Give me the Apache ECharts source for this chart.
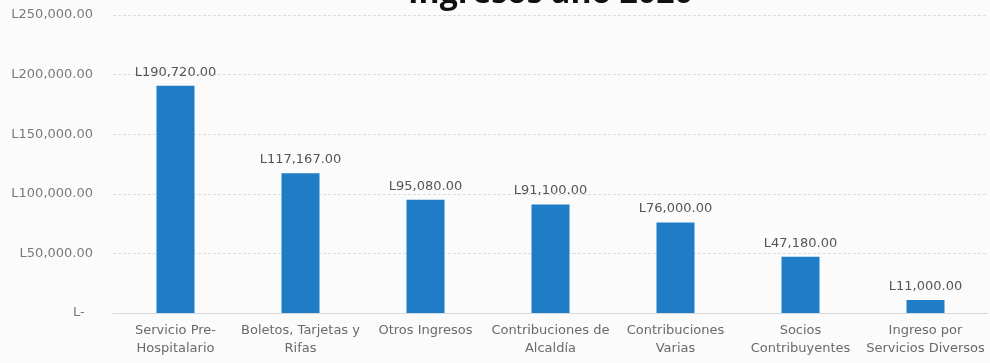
<!DOCTYPE html>
<html>
<head>
<meta charset="utf-8">
<script src="https://cdn.jsdelivr.net/npm/echarts@6/dist/echarts.min.js"></script>
<style>
  html, body { margin: 0; padding: 0; background: #fbfbfc; }
  #chart { width: 990px; height: 363px; }
</style>
</head>
<body>
<div id="chart"></div>
<script>
// Income categories (line breaks as they appear under each bar)
const categories = [
  'Servicio Pre-\nHospitalario',
  'Boletos, Tarjetas y\nRifas',
  'Otros Ingresos',
  'Contribuciones de\nAlcaldía',
  'Contribuciones\nVarias',
  'Socios\nContribuyentes',
  'Ingreso por\nServicios Diversos'
];
// Amounts in lempiras
const amounts = [190720, 117167, 95080, 91100, 76000, 47180, 11000];
const titleText = 'Ingresos año 2020';

// Accounting-style lempira format; zero shows as a dash
function lempiras(v) {
  if (v === 0) return 'L-  ';
  return 'L' + v.toLocaleString('en-US', { minimumFractionDigits: 2, maximumFractionDigits: 2 });
}

const labelFont = 'DejaVu Sans';

const chart = echarts.init(document.getElementById('chart'));
chart.setOption({
  backgroundColor: '#fbfbfc',
  animation: false,
  title: {
    text: titleText,
    left: 403,
    top: -27,
    textStyle: { fontFamily: 'Open Sans', fontSize: 32, fontWeight: 'bold', color: '#111' }
  },
  grid: { left: 113, right: 2, top: 15, bottom: 50, containLabel: false },
  xAxis: {
    type: 'category',
    data: categories,
    axisLine: { lineStyle: { color: '#d8d8d8' } },
    axisTick: { show: false },
    axisLabel: {
      interval: 0,
      margin: 9,
      fontFamily: labelFont,
      fontSize: 13,
      lineHeight: 18,
      color: '#6a6a6a'
    }
  },
  yAxis: {
    type: 'value',
    min: 0,
    max: 250000,
    interval: 50000,
    axisLine: { show: false },
    axisTick: { show: false },
    splitLine: { lineStyle: { color: '#dcdcdc', type: [3, 2] } },
    axisLabel: {
      margin: 20,
      fontFamily: labelFont,
      fontSize: 13,
      color: '#7a7a7a',
      formatter: lempiras
    }
  },
  series: [{
    type: 'bar',
    data: amounts,
    barWidth: 38,
    itemStyle: { color: '#1f7cc6' },
    label: {
      show: true,
      position: 'top',
      distance: 7,
      fontFamily: labelFont,
      fontSize: 13,
      color: '#555',
      formatter: p => lempiras(p.value)
    }
  }]
});
</script>
</body>
</html>
